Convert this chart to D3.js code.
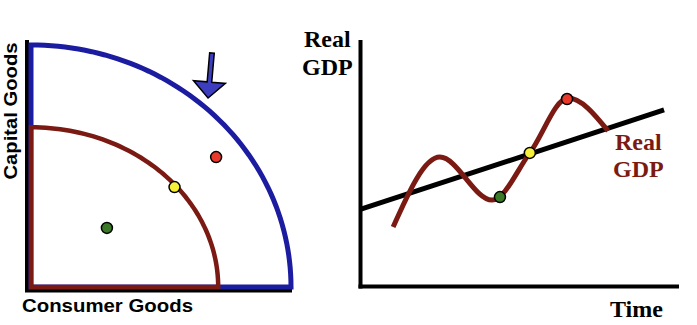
<!DOCTYPE html>
<html>
<head>
<meta charset="utf-8">
<script src="https://cdn.jsdelivr.net/npm/d3@7"></script>
<style>
  body { margin: 0; background: #fff; }
  svg { display: block; }
</style>
</head>
<body>
<script>
// left panel: production possibilities (0-100 units on each axis)
var frontierNames = ["after", "before"];
var frontierXMax = [100, 72];
var frontierYMax = [100, 66];
var ppcDotNames = ["red", "yellow", "green"];
var ppcDotX = [71.2, 55.2, 29.2];
var ppcDotY = [53.7, 41.3, 24.4];
var arrowFrom = [69.6, 96.7];
var arrowTo = [68.1, 78.1];

// right panel: real GDP over time
var timeX = [10.1, 24.8, 41.2, 53.1, 65.1, 77.7];
var realGdp = [24.3, 52.6, 35.2, 54.3, 76.5, 63.2];
var trendX = [0, 95.3];
var trendY = [31.5, 71.7];
var phaseNames = ["green", "yellow", "red"];
var phaseX = [43.7, 53.1, 64.8];
var phaseY = [36.4, 54.3, 76.1];

var w = 697;
var h = 325;

var colors = {
  after: "#1c1ca0",
  before: "#7a1a12",
  red: "#e8392a",
  yellow: "#f6f03a",
  green: "#3a7a26"
};

var svg = d3.select("body")
    .append("svg")
    .attr("width", w)
    .attr("height", h);

// ---------- left chart ----------
var ppcX = d3.scaleLinear().domain([0, 100]).range([31, 291]);
var ppcY = d3.scaleLinear().domain([0, 100]).range([287, 45]);

// axes
svg.append("line")
    .attr("x1", 27).attr("y1", 40).attr("x2", 27).attr("y2", 292)
    .attr("stroke", "black").attr("stroke-width", 4);
svg.append("line")
    .attr("x1", 25).attr("y1", 290.5).attr("x2", 292).attr("y2", 290.5)
    .attr("stroke", "black").attr("stroke-width", 4);

var frontierLine = d3.line()
    .x(function(d) { return ppcX(d[0]); })
    .y(function(d) { return ppcY(d[1]); });

frontierNames.forEach(function(name, i) {
  // quarter ellipse through both intercepts, closed along the axes
  var pts = [[0, 0]];
  d3.range(0, 90.1, 1.5).forEach(function(a) {
    var r = a * Math.PI / 180;
    pts.push([frontierXMax[i] * Math.sin(r), frontierYMax[i] * Math.cos(r)]);
  });
  svg.append("path")
      .attr("d", frontierLine(pts) + "Z")
      .attr("fill", "none")
      .attr("stroke", colors[name])
      .attr("stroke-width", name == "after" ? 5 : 4.5)
      .attr("stroke-linejoin", "miter");
});

// shift arrow
var ax0 = ppcX(arrowFrom[0]), ay0 = ppcY(arrowFrom[1]);
var ax1 = ppcX(arrowTo[0]), ay1 = ppcY(arrowTo[1]);
var ang = Math.atan2(ay1 - ay0, ax1 - ax0);
var ux = Math.cos(ang), uy = Math.sin(ang);
var px = -uy, py = ux;
var headLen = 16, headHalf = 16, shaftHalf = 2.3;
var bx = ax1 - ux * headLen, by = ay1 - uy * headLen;
var arrowPts = [
  [ax0 + px * shaftHalf, ay0 + py * shaftHalf],
  [bx + px * shaftHalf, by + py * shaftHalf],
  [bx + px * headHalf, by + py * headHalf],
  [ax1, ay1],
  [bx - px * headHalf, by - py * headHalf],
  [bx - px * shaftHalf, by - py * shaftHalf],
  [ax0 - px * shaftHalf, ay0 - py * shaftHalf]
];
svg.append("path")
    .attr("d", d3.line()(arrowPts) + "Z")
    .attr("fill", "#3d3dbf")
    .attr("stroke", "black")
    .attr("stroke-width", 1.5)
    .attr("stroke-linejoin", "miter");

svg.selectAll(".ppcdot")
    .data(ppcDotNames)
    .enter()
    .append("circle")
    .attr("class", "ppcdot")
    .attr("cx", function(d, i) { return ppcX(ppcDotX[i]); })
    .attr("cy", function(d, i) { return ppcY(ppcDotY[i]); })
    .attr("r", 5.5)
    .attr("fill", function(d) { return colors[d]; })
    .attr("stroke", "black")
    .attr("stroke-width", 1.5);

svg.append("text")
    .attr("transform", "translate(17,111) rotate(-90)")
    .attr("text-anchor", "middle")
    .attr("font-family", "Liberation Sans, Arial, sans-serif")
    .attr("font-weight", "bold")
    .attr("font-size", 19)
    .attr("textLength", 137)
    .attr("lengthAdjust", "spacingAndGlyphs")
    .text("Capital Goods");

svg.append("text")
    .attr("x", 22).attr("y", 312)
    .attr("font-family", "Liberation Sans, Arial, sans-serif")
    .attr("font-weight", "bold")
    .attr("font-size", 19)
    .attr("textLength", 171)
    .attr("lengthAdjust", "spacingAndGlyphs")
    .text("Consumer Goods");

// ---------- right chart ----------
var tX = d3.scaleLinear().domain([0, 100]).range([361, 679]);
var gY = d3.scaleLinear().domain([0, 100]).range([287, 40]);

svg.append("line")
    .attr("x1", 360.5).attr("y1", 40).attr("x2", 360.5).attr("y2", 288.5)
    .attr("stroke", "black").attr("stroke-width", 4);
svg.append("line")
    .attr("x1", 358.5).attr("y1", 286.5).attr("x2", 679).attr("y2", 286.5)
    .attr("stroke", "black").attr("stroke-width", 4);

svg.append("path")
    .datum(trendX)
    .attr("d", d3.line()
        .x(function(d) { return tX(d); })
        .y(function(d, i) { return gY(trendY[i]); }))
    .attr("stroke", "black")
    .attr("stroke-width", 5)
    .attr("fill", "none");

svg.append("path")
    .datum(timeX)
    .attr("d", d3.line()
        .curve(d3.curveMonotoneX)
        .x(function(d) { return tX(d); })
        .y(function(d, i) { return gY(realGdp[i]); }))
    .attr("stroke", colors.before)
    .attr("stroke-width", 5)
    .attr("fill", "none");

svg.selectAll(".phase")
    .data(phaseNames)
    .enter()
    .append("circle")
    .attr("class", "phase")
    .attr("cx", function(d, i) { return tX(phaseX[i]); })
    .attr("cy", function(d, i) { return gY(phaseY[i]); })
    .attr("r", 5.5)
    .attr("fill", function(d) { return colors[d]; })
    .attr("stroke", "black")
    .attr("stroke-width", 1.5);

var serif = "Liberation Serif, Times New Roman, serif";
function label(txt, x, y, fill) {
  svg.append("text")
      .attr("x", x).attr("y", y)
      .attr("font-family", serif)
      .attr("font-weight", "bold")
      .attr("font-size", 24)
      .attr("fill", fill)
      .text(txt);
}
label("Real", 304, 47, "black");
label("GDP", 302, 75, "black");
label("Real", 615, 150, colors.before);
label("GDP", 613, 177, colors.before);
label("Time", 610, 317, "black");
</script>
</body>
</html>
